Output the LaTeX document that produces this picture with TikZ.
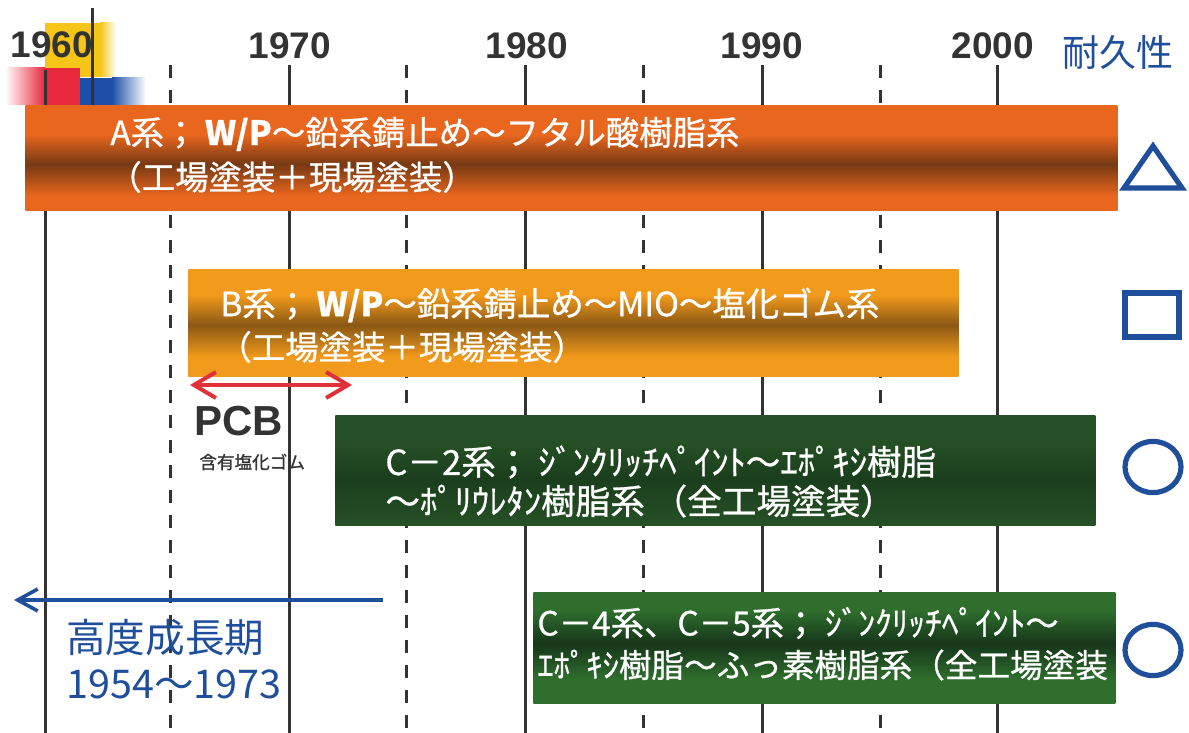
\documentclass[tikz,border=0pt]{standalone}
\usepackage{fontspec}
\setmainfont{Liberation Sans}
\newfontfamily\jp{Noto Sans CJK JP}
\newfontfamily\jpb[FakeBold=0.8]{Noto Sans CJK JP}
\usetikzlibrary{arrows.meta}
\definecolor{linegray}{HTML}{333333}
\definecolor{yeargray}{HTML}{333333}
\definecolor{orA}{HTML}{E8661E}
\definecolor{brA}{HTML}{763914}
\definecolor{orB}{HTML}{F29A1C}
\definecolor{brB}{HTML}{8A5814}
\definecolor{gC}{HTML}{265126}
\definecolor{gCd}{HTML}{1B3E1C}
\definecolor{gD}{HTML}{2F6E2D}
\definecolor{gDd}{HTML}{16361A}
\definecolor{symblue}{HTML}{1F4E9B}
\definecolor{arrred}{HTML}{E0303A}
\definecolor{decoyel}{HTML}{F5C518}
\definecolor{decored}{HTML}{E8283C}
\definecolor{decoblue}{HTML}{1D4FA8}
\pgfdeclareverticalshading{shA}{100bp}{color(0bp)=(orA); color(25bp)=(orA); color(32bp)=(orA); color(47bp)=(brA); color(61bp)=(orA); color(75bp)=(orA); color(100bp)=(orA)}
\pgfdeclareverticalshading{shB}{100bp}{color(0bp)=(orB); color(25bp)=(orB); color(34bp)=(orB); color(49bp)=(brB); color(63bp)=(orB); color(75bp)=(orB); color(100bp)=(orB)}
\pgfdeclareverticalshading{shC}{100bp}{color(0bp)=(gC); color(25bp)=(gC); color(46bp)=(gCd); color(64bp)=(gC); color(75bp)=(gC); color(100bp)=(gC)}
\pgfdeclareverticalshading{shD}{100bp}{color(0bp)=(gD); color(25bp)=(gD); color(36bp)=(gD); color(52bp)=(gDd); color(67bp)=(gD); color(75bp)=(gD); color(100bp)=(gD)}
\tikzset{
  year/.style={font=\bfseries\fontsize{18.5}{20}\selectfont, text=yeargray, inner sep=0},
  vline/.style={line width=1.5pt, draw=linegray},
  dline/.style={vline, dash pattern=on 6.5pt off 6pt},
  barbox/.style={rectangle, inner sep=0, draw=none, anchor=north west},
  bartext/.style={anchor=west, text=white, font=\jpb\fontsize{16.7}{19}\selectfont, inner sep=0},
  bluetext/.style={anchor=west, text=symblue, font=\jp\fontsize{19.8}{22}\selectfont, inner sep=0},
  sym/.style={draw=symblue, line width=2.6pt, line join=miter},
  redarrow/.style={draw=arrred, line width=2pt, {Straight Barb[length=11pt,width=13pt,line width=2pt]}-{Straight Barb[length=11pt,width=13pt,line width=2pt]}},
  bluearrow/.style={draw=symblue, line width=1.8pt, -{Straight Barb[length=10pt,width=11pt,line width=1.8pt]}},
}
\begin{document}
\begin{tikzpicture}[x=0.5pt,y=-0.5pt]
\useasboundingbox (0,0) rectangle (1189,733);
% top-left decoration
\fill[decoyel] (45,23) rectangle (100,77);
\shade[left color=decoyel, right color=white] (100,23) rectangle (116,77);
\shade[left color=white, right color=decored] (5,68) rectangle (45,105);
\fill[decored] (45,68) rectangle (80,105);
\fill[decoblue] (80,78) rectangle (112,105);
\shade[left color=decoblue, right color=white] (112,78) rectangle (146,105);
% year labels
\node[year] (y1960) at (52,45) {1960};
\node[year] (y1970) at (290,46) {1970};
\node[year] (y1980) at (527,46) {1980};
\node[year] (y1990) at (762,46) {1990};
\node[year] (y2000) at (993,46) {2000};
\node[anchor=west, text=symblue, font=\jp\fontsize{18.5}{20}\selectfont, inner sep=0] (durab) at (1062,52) {耐久性};
% grid lines
\draw[vline] (92,8) -- (92,105);
\draw[vline] (45,70) -- (45,733);
\draw[dline] (170,65) -- (170,733);
\draw[vline] (289,65) -- (289,733);
\draw[dline] (406,65) -- (406,733);
\draw[vline] (525,65) -- (525,733);
\draw[dline] (643,65) -- (643,733);
\draw[vline] (762,65) -- (762,733);
\draw[dline] (880,65) -- (880,733);
\draw[vline] (997,65) -- (997,733);
% bars
\node[barbox, shading=shA, minimum width=546pt, minimum height=52.5pt] (barA) at (25,105) {};
\node[barbox, shading=shB, minimum width=385pt, minimum height=53.5pt] (barB) at (188,269) {};
\node[barbox, shading=shC, minimum width=380pt, minimum height=55pt] (barC) at (335,415) {};
\node[barbox, shading=shD, minimum width=291pt, minimum height=55.5pt] (barD) at (533,592) {};
% bar texts
\node[bartext] (tA1) at (110,134) {A系； {\bfseries W/P}～鉛系錆止め～フタル酸樹脂系};
\node[bartext] (tA2) at (108,177) {（工場塗装＋現場塗装）};
\node[bartext] (tB1) at (220,305) {B系； {\bfseries W/P}～鉛系錆止め～MIO～塩化ゴム系};
\node[bartext] (tB2) at (218,347) {（工場塗装＋現場塗装）};
\node[bartext, font=\jpb\fontsize{17.3}{19}\selectfont] (tC1) at (385,462) {C－2系； ｼﾞﾝｸﾘｯﾁﾍﾟｲﾝﾄ～ｴﾎﾟｷｼ樹脂};
\node[bartext, font=\jpb\fontsize{17.3}{19}\selectfont] (tC2) at (385,501) {～ﾎﾟﾘｳﾚﾀﾝ樹脂系 （全工場塗装）};
\node[bartext] (tD1) at (537,623) {C－4系、C－5系； ｼﾞﾝｸﾘｯﾁﾍﾟｲﾝﾄ～};
\node[bartext, font=\jpb\fontsize{16.3}{19}\selectfont] (tD2) at (537,665) {ｴﾎﾟｷｼ樹脂～ふっ素樹脂系（全工場塗装};
% PCB
\coordinate (pcbL) at (190,385);
\coordinate (pcbR) at (352,385);
\draw[redarrow] (pcbL) -- (pcbR);
\node[anchor=west, inner sep=0, text=yeargray, font=\bfseries\fontsize{21}{22}\selectfont] (pcb) at (194,421) {PCB};
\node[anchor=west, inner sep=0, text=yeargray, font=\jpb\fontsize{8.8}{10}\selectfont] (pcbsub) at (199,462) {含有塩化ゴム};
% high growth period
\coordinate (gR) at (383,600);
\coordinate (gL) at (14,600);
\draw[bluearrow] (gR) -- (gL);
\node[bluetext] (hg1) at (66,638) {高度成長期};
\node[bluetext] (hg2) at (66,684) {1954～1973};
% durability symbols
\draw[sym] (1153,146) -- (1182,188) -- (1124,188) -- cycle;
\draw[sym] (1125,293) rectangle (1179,337);
\draw[sym] (1153,467) ellipse [x radius=14pt, y radius=12.8pt];
\draw[sym] (1153,650) ellipse [x radius=14pt, y radius=12.8pt];
\end{tikzpicture}
\end{document}
